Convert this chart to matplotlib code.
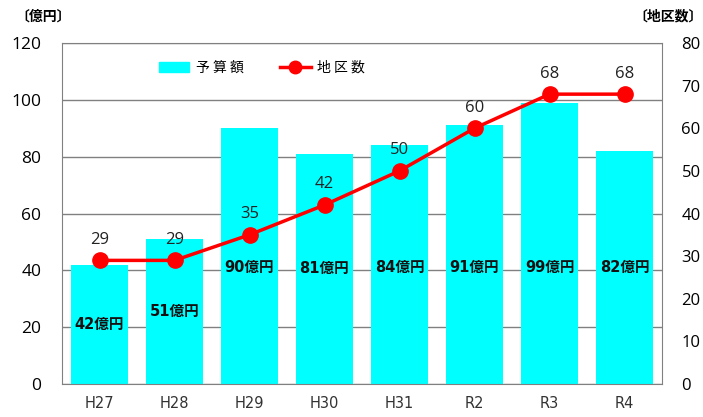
import matplotlib
matplotlib.use('Agg')
import matplotlib.pyplot as plt
from matplotlib.lines import Line2D
from matplotlib.patches import Patch

plt.rcParams['font.family'] = ['Noto Sans CJK JP', 'DejaVu Sans']
num_font = ['Open Sans', 'Noto Sans CJK JP']

years = ['H27', 'H28', 'H29', 'H30', 'H31', 'R2', 'R3', 'R4']
budget = [42, 51, 90, 81, 84, 91, 99, 82]      # 億円
districts = [29, 29, 35, 42, 50, 60, 68, 68]   # 地区数

fig = plt.figure(figsize=(7.03, 4.17), dpi=100)
ax = fig.add_axes([62 / 703, 33 / 417, 600 / 703, 341 / 417])
x = range(len(years))

ax.set_ylim(0, 120)
ax.set_yticks(range(0, 121, 20))
ax.yaxis.grid(True, color='#808080', lw=1)
ax.set_axisbelow(True)
ax.bar(x, budget, width=0.76, color='#00FFFF', zorder=2)
ax.set_xlim(-0.5, len(years) - 0.5)
ax.set_xticks(list(x))
ax.set_xticklabels(years, fontsize=10.5, color='#333333', family='DejaVu Sans')
ax.tick_params(axis='both', length=0, pad=9)
ax.tick_params(axis='y', labelsize=12.5, pad=15)
for lbl in ax.get_yticklabels():
    lbl.set_family(num_font)
for s in ax.spines.values():
    s.set_color('#808080')

# bar labels
for i, v in enumerate(budget):
    ax.text(i, min(v / 2, 41), f'{v}億円', ha='center', va='center',
            fontsize=10.5, fontweight='bold', color='#111111', zorder=5,
            family=['DejaVu Sans', 'Noto Sans CJK JP'])

ax2 = ax.twinx()
ax2.set_ylim(0, 80)
ax2.set_yticks(range(0, 81, 10))
ax2.tick_params(axis='y', length=0, labelsize=12, pad=14)
for lbl in ax2.get_yticklabels():
    lbl.set_family(num_font)
for s in ax2.spines.values():
    s.set_visible(False)
ax2.plot(list(x), districts, color='#FF0000', lw=2.5, marker='o',
         markersize=11, zorder=4)
for i, v in enumerate(districts):
    ax2.annotate(str(v), (i, v), xytext=(0, 9), textcoords='offset points',
                 ha='center', va='bottom', fontsize=12, color='#222222',
                 family=num_font)

handles = [Patch(color='#00FFFF'),
           Line2D([], [], color='#FF0000', lw=2.5, marker='o', markersize=9)]
leg = ax.legend(handles, ['予 算 額', '地 区 数'], loc='upper left', ncol=2,
                bbox_to_anchor=(0.14, 0.985), frameon=False, fontsize=10,
                handlelength=2.2, columnspacing=2.6, handletextpad=0.5)

fig.text(15 / 703, 1 - 17 / 417, '〔億円〕', fontsize=10, fontweight='bold',
         va='center', ha='left')
fig.text(1.0, 1 - 17 / 417, '〔地区数〕', fontsize=10, fontweight='bold',
         va='center', ha='right')

fig.savefig('out.png', dpi=100)
